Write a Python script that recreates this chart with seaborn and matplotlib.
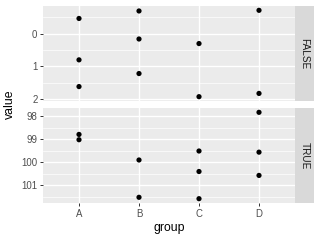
import matplotlib
matplotlib.use("Agg")
import matplotlib.pyplot as plt
import seaborn as sns
import pandas as pd
import numpy as np
from matplotlib.ticker import MultipleLocator

categories = ['A', 'B', 'C', 'D']
false_group = ['A', 'A', 'A', 'B', 'B', 'B', 'C', 'C', 'D', 'D']
false_value = [-0.47, 0.80, 1.62, -0.70, 0.16, 1.22, 0.30, 1.93, -0.72, 1.83]
true_group = ['A', 'A', 'B', 'B', 'C', 'C', 'C', 'D', 'D', 'D']
true_value = [98.79, 99.02, 99.90, 101.52, 99.51, 100.40, 101.58, 97.83, 99.56, 100.57]
facet_labels = ['FALSE', 'TRUE']

plt.rcParams['font.family'] = ['Liberation Sans', 'DejaVu Sans']

W, H = 320, 240
fig = plt.figure(figsize=(W / 100, H / 100), dpi=100)
fig.patch.set_facecolor('white')

def px_axes(x0, y0, x1, y1):
    return fig.add_axes([x0 / W, 1 - y1 / H, (x1 - x0) / W, (y1 - y0) / H])

panels = [
    (pd.DataFrame({'group': pd.Categorical(false_group, categories=categories), 'value': false_value}), 6, 101, 1.0, facet_labels[0]),
    (pd.DataFrame({'group': pd.Categorical(true_group, categories=categories), 'value': true_value}), 108, 203, 1.0, facet_labels[1]),
]

for i, (df, y0, y1, step, lab) in enumerate(panels):
    ax = px_axes(43, y0, 295, y1)
    ax.set_facecolor('#EBEBEB')
    df = df.assign(xpos=df['group'].cat.codes)
    sns.scatterplot(data=df, x='xpos', y='value', ax=ax, color='black', s=14,
                    edgecolor='none', linewidth=0, zorder=3, legend=False)
    lo, hi = df['value'].min(), df['value'].max()
    pad = 0.05 * (hi - lo)
    ax.set_ylim(hi + pad, lo - pad)
    ax.set_xlim(-0.6, len(categories) - 0.4)
    ax.yaxis.set_major_locator(MultipleLocator(step))
    ax.yaxis.set_minor_locator(MultipleLocator(step / 2))
    ax.set_xticks(range(len(categories)))
    ax.grid(True, which='major', color='white', linewidth=1.0)
    ax.grid(True, which='minor', axis='y', color='white', linewidth=0.5)
    ax.set_axisbelow(True)
    for sp in ax.spines.values():
        sp.set_visible(False)
    ax.tick_params(axis='both', which='major', length=2.5, width=0.7, color='#333333',
                   labelcolor='#4D4D4D', labelsize=6.9, pad=1.5)
    ax.tick_params(axis='y', which='minor', length=0)
    ax.set_xlabel('')
    ax.set_ylabel('')
    yt = [t for t in ax.get_yticks() if min(ax.get_ylim()) <= t <= max(ax.get_ylim())]
    ax.set_yticks(yt)
    ax.set_yticklabels([f'{t:g}' for t in yt])
    if i == 0:
        ax.tick_params(axis='x', length=0, labelbottom=False)
    else:
        ax.set_xticklabels(categories)
    sax = px_axes(295, y0, 314, y1)
    sax.set_facecolor('#D9D9D9')
    sax.set_xticks([]); sax.set_yticks([])
    for sp in sax.spines.values():
        sp.set_visible(False)
    sax.text(0.5, 0.5, lab, rotation=-90, ha='center', va='center',
             fontsize=7.2, color='#1A1A1A', transform=sax.transAxes)

fig.text(169 / W, 1 - 227.5 / H, 'group', ha='center', va='center', fontsize=8.8, color='black')
fig.text(10 / W, 1 - 104 / H, 'value', ha='center', va='center', rotation=90, fontsize=8.8, color='black')

fig.savefig('out.png', dpi=100)
